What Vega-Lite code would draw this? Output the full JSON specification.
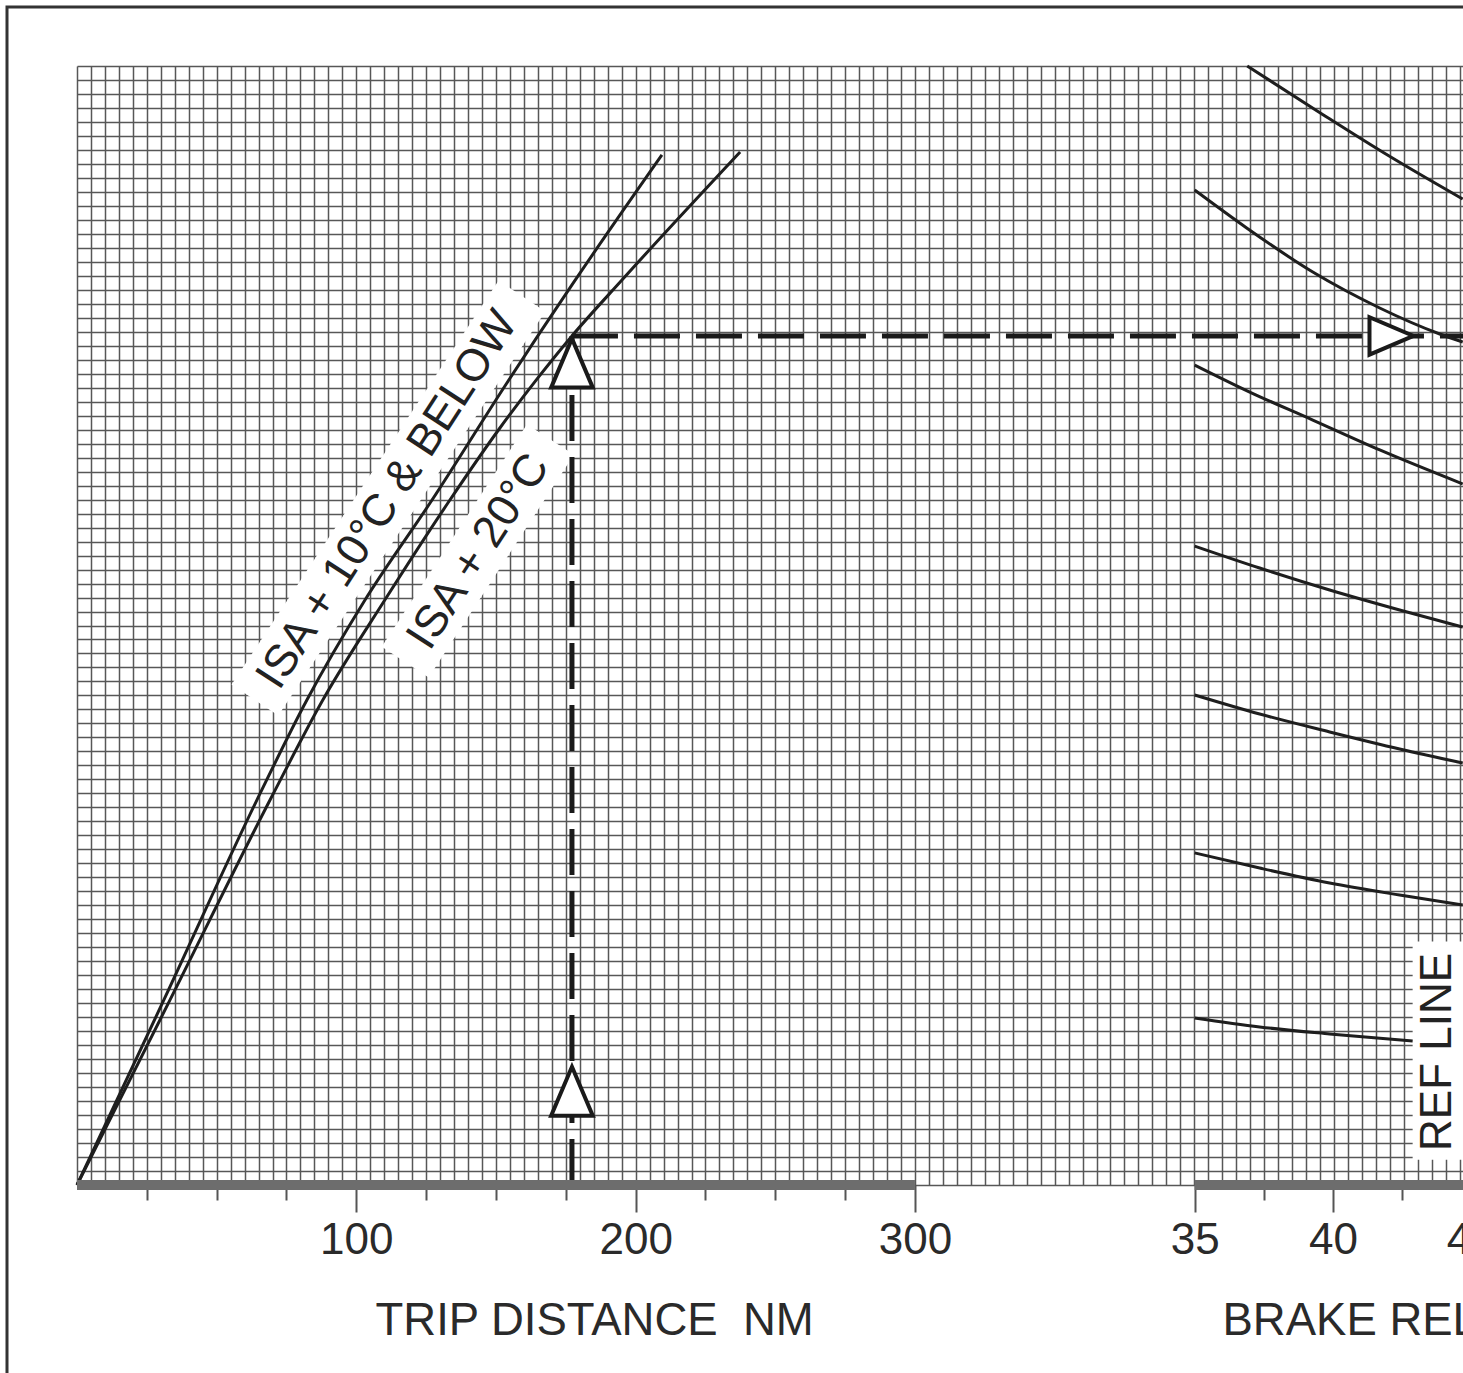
{
  "$schema": "https://vega.github.io/schema/vega-lite/v6.json",
  "width": 1386,
  "height": 1119,
  "autosize": {"type": "none"},
  "padding": {"left": 77, "top": 66, "right": 0, "bottom": 188},
  "background": "white",
  "config": {"view": {"stroke": null}, "font": "Liberation Sans"},
  "datasets": {
    "frame": [{"x": -25.06, "x2": 600, "y": 84.22, "y2": -30}],
    "boxes": [
      {"id": "b1", "x": 63.7, "y": 34.67},
      {"id": "b1", "x": 159.3, "y": 63.56},
      {"id": "b2", "x": 117.5, "y": 37.38},
      {"id": "b2", "x": 169.5, "y": 53.3}
    ],
    "isa": [
      {"series": "ISA + 10°C & BELOW", "x": 0, "y": 0},
      {"series": "ISA + 10°C & BELOW", "x": 31.1, "y": 13.23},
      {"series": "ISA + 10°C & BELOW", "x": 64.4, "y": 27.52},
      {"series": "ISA + 10°C & BELOW", "x": 82.3, "y": 34.67},
      {"series": "ISA + 10°C & BELOW", "x": 103.1, "y": 41.82},
      {"series": "ISA + 10°C & BELOW", "x": 127.1, "y": 48.97},
      {"series": "ISA + 10°C & BELOW", "x": 153.9, "y": 57.34},
      {"series": "ISA + 10°C & BELOW", "x": 177.2, "y": 64.35},
      {"series": "ISA + 10°C & BELOW", "x": 209.4, "y": 73.64},
      {"series": "ISA + 20°C", "x": 0, "y": 0},
      {"series": "ISA + 20°C", "x": 33.3, "y": 13.23},
      {"series": "ISA + 20°C", "x": 69.1, "y": 27.52},
      {"series": "ISA + 20°C", "x": 88.0, "y": 34.67},
      {"series": "ISA + 20°C", "x": 110.2, "y": 41.82},
      {"series": "ISA + 20°C", "x": 133.5, "y": 48.97},
      {"series": "ISA + 20°C", "x": 151.4, "y": 54.12},
      {"series": "ISA + 20°C", "x": 165.0, "y": 57.7},
      {"series": "ISA + 20°C", "x": 177.2, "y": 60.7},
      {"series": "ISA + 20°C", "x": 195.1, "y": 64.7},
      {"series": "ISA + 20°C", "x": 237.4, "y": 73.85}
    ],
    "dash": [
      {"x": 177.2, "x2": 177.2, "y": 0, "y2": 60.7},
      {"x": 177.2, "x2": 496.2, "y": 60.7, "y2": 60.7}
    ],
    "uparrows": [{"x": 177.2, "y": 6.7}, {"x": 177.2, "y": 58.76}],
    "rightarrow": [{"x": 470.6, "y": 60.7}],
    "tripbar": [{"x": 0, "x2": 300, "y": 0}],
    "isatext": [
      {"x": 111.0, "y": 49.0, "label": "ISA + 10°C & BELOW"},
      {"x": 143.6, "y": 45.3, "label": "ISA + 20°C"}
    ],
    "wbar": [{"x": 35, "x2": 44.7, "y": 0}],
    "refbox": [{"x": 42.88, "x2": 46, "y": 1.8, "y2": 17.4}],
    "curves": [
      {"curve": "A", "x": 36.9, "y": 80.0},
      {"curve": "A", "x": 39.5, "y": 76.7},
      {"curve": "A", "x": 42.0, "y": 73.6},
      {"curve": "A", "x": 44.69, "y": 70.49},
      {"curve": "B", "x": 35.0, "y": 71.13},
      {"curve": "B", "x": 36.88, "y": 68.42},
      {"curve": "B", "x": 39.27, "y": 65.27},
      {"curve": "B", "x": 41.69, "y": 62.7},
      {"curve": "B", "x": 43.86, "y": 60.84},
      {"curve": "B", "x": 44.69, "y": 60.27},
      {"curve": "C", "x": 35.0, "y": 58.62},
      {"curve": "C", "x": 36.99, "y": 56.69},
      {"curve": "C", "x": 39.27, "y": 54.69},
      {"curve": "C", "x": 41.69, "y": 52.55},
      {"curve": "C", "x": 44.69, "y": 50.12},
      {"curve": "D", "x": 35.0, "y": 45.68},
      {"curve": "D", "x": 37.35, "y": 44.11},
      {"curve": "D", "x": 39.88, "y": 42.54},
      {"curve": "D", "x": 42.41, "y": 41.11},
      {"curve": "D", "x": 44.69, "y": 39.89},
      {"curve": "E", "x": 35.0, "y": 35.03},
      {"curve": "E", "x": 37.35, "y": 33.67},
      {"curve": "E", "x": 39.88, "y": 32.39},
      {"curve": "E", "x": 42.41, "y": 31.17},
      {"curve": "E", "x": 44.69, "y": 30.17},
      {"curve": "F", "x": 35.0, "y": 23.74},
      {"curve": "F", "x": 37.35, "y": 22.66},
      {"curve": "F", "x": 39.88, "y": 21.59},
      {"curve": "F", "x": 42.41, "y": 20.73},
      {"curve": "F", "x": 44.69, "y": 20.02},
      {"curve": "G", "x": 35.0, "y": 11.94},
      {"curve": "G", "x": 37.35, "y": 11.3},
      {"curve": "G", "x": 39.88, "y": 10.8},
      {"curve": "G", "x": 42.88, "y": 10.29}
    ],
    "reftext": [{"x": 43.8, "y": 9.51, "label": "REF LINE"}],
    "cutlabel": [{"x": 45, "y": -2.4, "label": "45"}]
  },
  "encoding": {
    "y": {
      "field": "y",
      "type": "quantitative",
      "scale": {"domain": [0, 80], "nice": false, "zero": false},
      "axis": {
        "values": [0,1,2,3,4,5,6,7,8,9,10,11,12,13,14,15,16,17,18,19,20,21,22,23,24,25,26,27,28,29,30,31,32,33,34,35,36,37,38,39,40,41,42,43,44,45,46,47,48,49,50,51,52,53,54,55,56,57,58,59,60,61,62,63,64,65,66,67,68,69,70,71,72,73,74,75,76,77,78,79,80],
        "grid": true,
        "gridColor": "#575757",
        "gridWidth": 1.5,
        "gridOpacity": 1,
        "labels": false,
        "ticks": false,
        "domain": false,
        "title": null
      }
    }
  },
  "layer": [
    {
      "encoding": {
        "x": {
          "field": "x",
          "type": "quantitative",
          "scale": {"domain": [0, 496.2], "nice": false, "zero": false},
          "axis": {
            "orient": "bottom",
            "values": [0,5,10,15,20,25,30,35,40,45,50,55,60,65,70,75,80,85,90,95,100,105,110,115,120,125,130,135,140,145,150,155,160,165,170,175,180,185,190,195,200,205,210,215,220,225,230,235,240,245,250,255,260,265,270,275,280,285,290,295,300,305,310,315,320,325,330,335,340,345,350,355,360,365,370,375,380,385,390,395,400,405,410,415,420,425,430,435,440,445,450,455,460,465,470,475,480,485,490,495],
            "grid": true,
            "gridColor": "#575757",
            "gridWidth": 1.5,
            "gridOpacity": 1,
            "domain": false,
            "ticks": true,
            "tickColor": "#555555",
            "tickWidth": 2,
            "tickSize": {"condition": {"test": "datum.value % 100 === 0", "value": 27}, "value": 15},
            "tickOpacity": {"condition": {"test": "datum.value > 0 && datum.value <= 300 && datum.value % 25 === 0", "value": 1}, "value": 0},
            "labelExpr": "datum.value > 0 && datum.value <= 300 && datum.value % 100 === 0 ? datum.label : ''",
            "labelFont": "Liberation Sans",
            "labelFontSize": 44,
            "labelColor": "#2a2a2a",
            "labelPadding": 6,
            "labelOverlap": false,
            "labelFlush": false,
            "labelBound": false,
            "title": "TRIP DISTANCE\u00a0 NM",
            "titleFont": "Liberation Sans",
            "titleX": 298,
            "titleY": 149,
            "titleAlign": "left",
            "titleBaseline": "alphabetic",
            "titleFontSize": 45.5,
            "titleFontWeight": "normal",
            "titleColor": "#2a2a2a"
          }
        }
      },
      "layer": [
        {
          "data": {"name": "frame"},
          "mark": {"type": "rect", "filled": false, "stroke": "#333333", "strokeWidth": 3},
          "encoding": {"x2": {"field": "x2"}, "y2": {"field": "y2"}}
        },
        {
          "data": {"name": "boxes"},
          "mark": {"type": "line", "color": "white", "strokeWidth": 56, "strokeCap": "butt"},
          "encoding": {"detail": {"field": "id"}}
        },
        {
          "data": {"name": "dash"},
          "mark": {"type": "rule", "color": "#1a1a1a", "strokeWidth": 5, "strokeDash": [46, 16], "strokeCap": "butt"},
          "encoding": {"x2": {"field": "x2"}, "y2": {"field": "y2"}}
        },
        {
          "data": {"name": "isa"},
          "mark": {"type": "line", "color": "#1e1e1e", "strokeWidth": 3, "interpolate": "monotone"},
          "encoding": {"detail": {"field": "series"}}
        },
        {
          "data": {"name": "uparrows"},
          "mark": {"type": "point", "shape": "M0,-1L0.85,1L-0.85,1Z", "size": 2401, "filled": true, "fill": "white", "stroke": "#1a1a1a", "strokeWidth": 4, "opacity": 1}
        },
        {
          "data": {"name": "rightarrow"},
          "mark": {"type": "point", "shape": "M0,-1L0.85,1L-0.85,1Z", "size": 1936, "angle": 90, "filled": true, "fill": "white", "stroke": "#1a1a1a", "strokeWidth": 4, "opacity": 1}
        },
        {
          "data": {"name": "tripbar"},
          "mark": {"type": "rule", "color": "#6d6d6d", "strokeWidth": 10, "strokeCap": "butt"},
          "encoding": {"x2": {"field": "x2"}}
        },
        {
          "data": {"name": "isatext"},
          "mark": {"type": "text", "angle": 303, "font": "Liberation Sans", "fontSize": 45, "color": "#222222", "align": "center", "baseline": "middle"},
          "encoding": {"text": {"field": "label"}}
        }
      ]
    },
    {
      "encoding": {
        "x": {
          "field": "x",
          "type": "quantitative",
          "scale": {"domain": [-5.4, 44.7], "nice": false, "zero": false},
          "axis": {
            "orient": "bottom",
            "values": [35, 37.5, 40, 42.5],
            "grid": false,
            "domain": false,
            "ticks": true,
            "tickColor": "#555555",
            "tickWidth": 2,
            "tickSize": {"condition": {"test": "datum.value % 5 === 0", "value": 27}, "value": 15},
            "labelExpr": "datum.value % 5 === 0 ? datum.label : ''",
            "labelFont": "Liberation Sans",
            "labelFontSize": 44,
            "labelColor": "#2a2a2a",
            "labelPadding": 6,
            "labelOverlap": false,
            "labelFlush": false,
            "labelBound": false,
            "title": "BRAKE RELEASE WEIGHT\u00a0 1000 KG",
            "titleFont": "Liberation Sans",
            "titleX": 1145,
            "titleY": 149,
            "titleAlign": "left",
            "titleBaseline": "alphabetic",
            "titleFontSize": 45.5,
            "titleFontWeight": "normal",
            "titleColor": "#2a2a2a"
          }
        }
      },
      "layer": [
        {
          "data": {"name": "refbox"},
          "mark": {"type": "rect", "color": "white", "opacity": 1},
          "encoding": {"x2": {"field": "x2"}, "y2": {"field": "y2"}}
        },
        {
          "data": {"name": "curves"},
          "mark": {"type": "line", "color": "#1e1e1e", "strokeWidth": 3, "interpolate": "monotone"},
          "encoding": {"detail": {"field": "curve"}}
        },
        {
          "data": {"name": "wbar"},
          "mark": {"type": "rule", "color": "#6d6d6d", "strokeWidth": 10, "strokeCap": "butt"},
          "encoding": {"x2": {"field": "x2"}}
        },
        {
          "data": {"name": "reftext"},
          "mark": {"type": "text", "angle": 270, "font": "Liberation Sans", "fontSize": 44, "color": "#222222", "align": "center", "baseline": "middle"},
          "encoding": {"text": {"field": "label"}}
        },
        {
          "data": {"name": "cutlabel"},
          "mark": {"type": "text", "font": "Liberation Sans", "fontSize": 44, "color": "#2a2a2a", "align": "center", "baseline": "top"},
          "encoding": {"text": {"field": "label"}}
        }
      ]
    }
  ],
  "resolve": {"scale": {"x": "independent"}, "axis": {"x": "independent"}}
}
